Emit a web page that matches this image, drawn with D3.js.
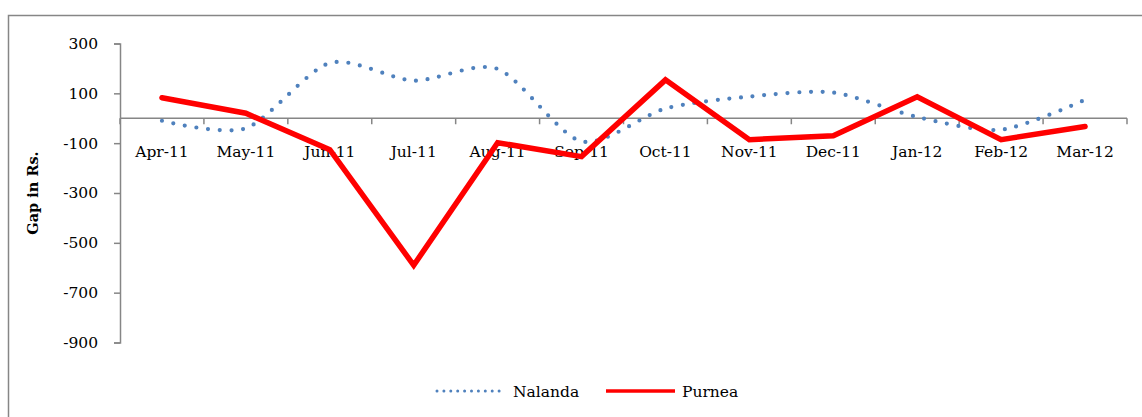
<!DOCTYPE html>
<html>
<head>
<meta charset="utf-8">
<script src="https://cdn.jsdelivr.net/npm/d3@7"></script>
<style>
  body { margin: 0; background: #fff; }
  svg { display: block; }
  text { font-family: "DejaVu Serif", "Liberation Serif", serif; fill: #000; }
</style>
</head>
<body>
<svg id="chart" width="1142" height="417"></svg>
<script>
// data
var months = ["Apr-11", "May-11", "Jun-11", "Jul-11", "Aug-11", "Sep-11",
              "Oct-11", "Nov-11", "Dec-11", "Jan-12", "Feb-12", "Mar-12"];
var nalanda = [-10, -40, 222, 151, 198, -93, 39, 87, 103, 5, -46, 74];
var purnea = [82, 20, -126, -590, -98, -154, 154, -86, -70, 86, -86, -33];
var yTicks = [300, 100, -100, -300, -500, -700, -900];

var svg = d3.select("#chart");

// outer frame (runs off the right and bottom edges like the picture)
svg.append("rect")
    .attr("x", 8.5).attr("y", 15.5)
    .attr("width", 1150).attr("height", 420)
    .attr("fill", "none")
    .attr("stroke", "#868686")
    .attr("stroke-width", 1.5);

var x = d3.scaleBand().domain(months).range([120, 1127]);
var y = d3.scaleLinear().domain([-900, 300]).range([342.5, 43.5]);

var axisColor = "#868686";

// y axis
var yAxis = svg.append("g")
    .attr("transform", "translate(120,0)")
    .call(d3.axisLeft(y).tickValues(yTicks).tickSize(6).tickPadding(16)
        .tickFormat(function(d) { return String(d); }));
yAxis.selectAll("path, line").attr("stroke", axisColor).attr("stroke-width", 1.5);
yAxis.selectAll("text")
    .attr("font-family", "DejaVu Serif")
    .attr("font-size", 15.5);

// x axis at zero
var xAxis = svg.append("g")
    .attr("transform", "translate(0," + y(0) + ")");
xAxis.append("line")
    .attr("x1", 120).attr("x2", 1127)
    .attr("stroke", axisColor).attr("stroke-width", 1.5);
var bounds = d3.range(months.length + 1).map(function(i) {
    return i < months.length ? x(months[i]) : x.range()[1];
});
xAxis.selectAll(".tk")
    .data(bounds)
    .enter().append("line")
    .attr("class", "tk")
    .attr("x1", function(d) { return d; })
    .attr("x2", function(d) { return d; })
    .attr("y1", 0).attr("y2", 6)
    .attr("stroke", axisColor).attr("stroke-width", 1.5);
xAxis.selectAll(".lb")
    .data(months)
    .enter().append("text")
    .attr("class", "lb")
    .attr("x", function(d) { return x(d) + x.bandwidth() / 2; })
    .attr("y", 39)
    .attr("text-anchor", "middle")
    .attr("font-size", 15.5)
    .text(function(d) { return d; });

// axis title
svg.append("text")
    .attr("transform", "translate(38,193) rotate(-90)")
    .attr("text-anchor", "middle")
    .attr("font-size", 14.5)
    .attr("font-weight", "bold")
    .text("Gap in Rs.");

function cx(d, i) { return x(months[i]) + x.bandwidth() / 2; }

var smooth = d3.line()
    .x(cx)
    .y(function(d) { return y(d); })
    .curve(d3.curveCardinal.tension(0.2));

var straight = d3.line()
    .x(cx)
    .y(function(d) { return y(d); });

svg.append("path")
    .attr("d", smooth(nalanda))
    .attr("fill", "none")
    .attr("stroke", "#4F81BD")
    .attr("stroke-width", 4.2)
    .attr("stroke-linecap", "round")
    .attr("stroke-dasharray", "0,11.7");

svg.append("path")
    .attr("d", straight(purnea))
    .attr("fill", "none")
    .attr("stroke", "#FF0000")
    .attr("stroke-width", 5.5)
    .attr("stroke-linecap", "round")
    .attr("stroke-linejoin", "miter");

// legend
var legend = svg.append("g");
legend.append("line")
    .attr("x1", 437).attr("x2", 500)
    .attr("y1", 391).attr("y2", 391)
    .attr("stroke", "#4F81BD")
    .attr("stroke-width", 3)
    .attr("stroke-linecap", "round")
    .attr("stroke-dasharray", "0,6.9");
legend.append("text")
    .attr("x", 513).attr("y", 397)
    .attr("font-size", 15.5)
    .text("Nalanda");
legend.append("line")
    .attr("x1", 606).attr("x2", 675)
    .attr("y1", 391).attr("y2", 391)
    .attr("stroke", "#FF0000")
    .attr("stroke-width", 3.5);
legend.append("text")
    .attr("x", 682).attr("y", 397)
    .attr("font-size", 15.5)
    .text("Purnea");
</script>
</body>
</html>
